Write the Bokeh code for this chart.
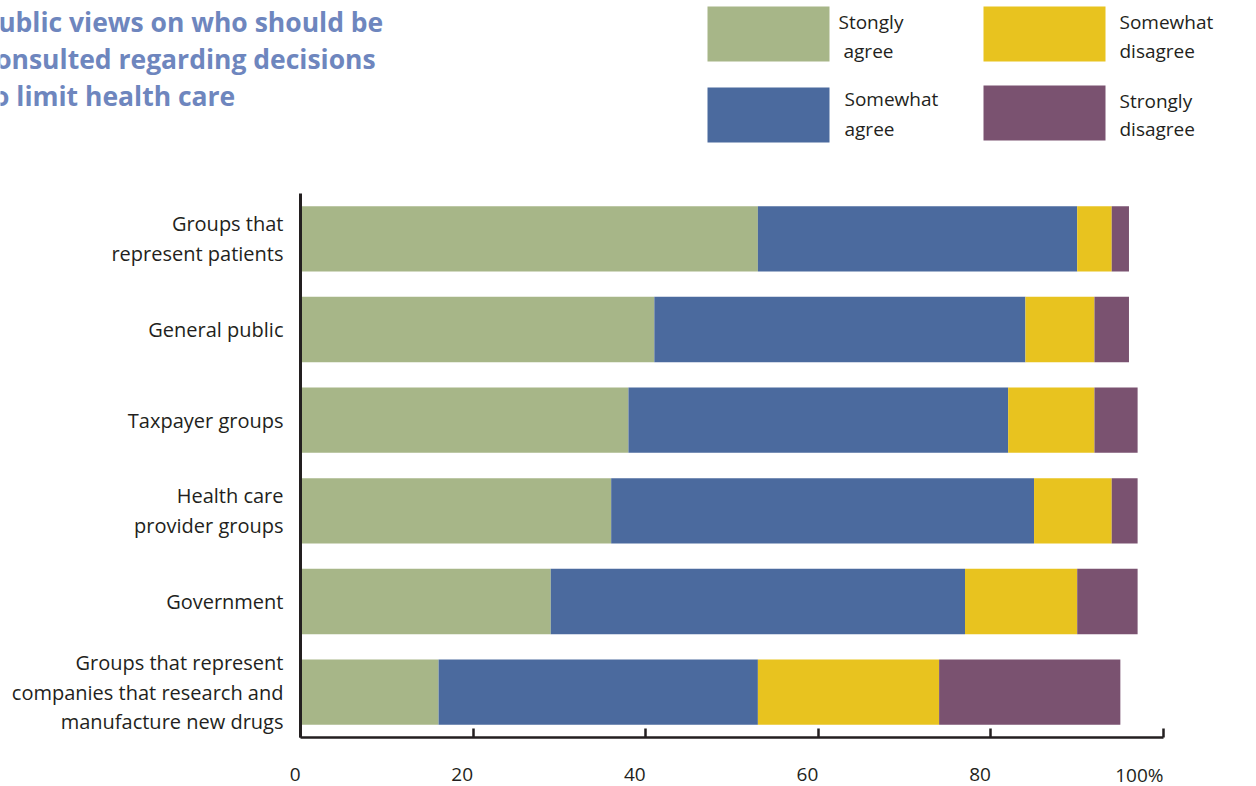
from bokeh.plotting import figure
from bokeh.models import Range1d, FixedTicker, Label, BoxAnnotation, ColumnDataSource, LinearAxis
from bokeh.embed import file_html
from bokeh.resources import INLINE

# ---- data ----
categories = [
    "Groups that\nrepresent patients",
    "General public",
    "Taxpayer groups",
    "Health care\nprovider groups",
    "Government",
    "Groups that represent\ncompanies that research and\nmanufacture new drugs",
]
strongly_agree = [53, 41, 38, 36, 29, 16]
somewhat_agree = [37, 43, 44, 49, 48, 37]
somewhat_disagree = [4, 8, 10, 9, 13, 21]
strongly_disagree = [2, 4, 5, 3, 7, 21]

series_keys = ["sa", "swa", "swd", "sd"]
series_names = ["Stongly\n agree", "Somewhat\nagree", "Somewhat\ndisagree", "Strongly\ndisagree"]
series_colors = ["#a7b688", "#4b6a9e", "#e8c31f", "#7a5270"]

x_ticks = [0, 20, 40, 60, 80, 100]
x_tick_labels = ["0", "20", "40", "60", "80", "100%"]
title_lines = ["Public views on who should be", "consulted regarding decisions", "to limit health care"]

FONT = "Open Sans"
TEXT_COLOR = "#231f20"
TITLE_COLOR = "#6e86be"

# ---- layout (pixels) ----
W, H = 1256, 786
AX_L, AX_R, AX_T, AX_B = 300, 1163, 193, 737   # where 0..100 and the bar band lie
n = len(categories)
KX = (AX_R - AX_L) / 100.0
KY = (AX_B - AX_T) / n


def dx(px):
    return (px - AX_L) / KX


def dy(py):
    return (AX_B - py) / KY


ypos = [n - i - 0.5 for i in range(n)]
source = ColumnDataSource(dict(y=ypos, sa=strongly_agree, swa=somewhat_agree,
                               swd=somewhat_disagree, sd=strongly_disagree))

p = figure(width=W, height=H, output_backend="svg", toolbar_location=None,
           x_range=Range1d(dx(0), dx(W)), y_range=Range1d(dy(H), dy(0)),
           x_axis_location=None, y_axis_location=None, min_border=0)
p.outline_line_color = None
p.grid.visible = False
p.background_fill_color = "white"
p.border_fill_color = "white"

p.hbar_stack(series_keys, y="y", height=0.72, color=series_colors, line_color=None, source=source)

# x axis (line + ticks); its labels are placed right-aligned at the ticks below
xa = LinearAxis(fixed_location=0, bounds=(0, 100))
xa.ticker = FixedTicker(ticks=x_ticks)
xa.major_label_overrides = {t: "" for t in x_ticks}
xa.major_tick_in = 9
xa.major_tick_out = 0
xa.minor_tick_line_color = None
xa.axis_line_width = 2.5
xa.axis_line_color = TEXT_COLOR
xa.major_tick_line_width = 2.5
xa.major_tick_line_color = TEXT_COLOR
p.add_layout(xa, "below")

for t, lab in zip(x_ticks, x_tick_labels):
    p.add_layout(Label(x=t, y=dy(774), text=lab, text_align="right", text_baseline="middle",
                       text_font=FONT, text_font_size="19px", text_color=TEXT_COLOR))

# y axis with category labels
ya = LinearAxis(fixed_location=0, bounds=(0, n))
ya.ticker = FixedTicker(ticks=ypos)
ya.major_label_overrides = {y: c for y, c in zip(ypos, categories)}
ya.major_label_text_font = FONT
ya.major_label_text_font_size = "20px"
ya.major_label_text_color = TEXT_COLOR
ya.major_label_text_line_height = 1.1
ya.major_label_standoff = 17
ya.major_tick_line_color = None
ya.major_tick_out = 0
ya.major_tick_in = 0
ya.minor_tick_line_color = None
ya.axis_line_width = 3
ya.axis_line_color = TEXT_COLOR
p.add_layout(ya, "left")

# title
for j, ln in enumerate(title_lines):
    p.add_layout(Label(x=dx(-19), y=dy(21 + 37 * j), text=ln, text_align="left", text_baseline="middle",
                       text_font=FONT, text_font_size="26.5px", text_font_style="bold",
                       text_color=TITLE_COLOR))

# legend
sw_left = [707, 707, 983, 983]
sw_top = [6, 87, 6, 85]
txt_left = [838, 844, 1119, 1119]
txt_y = [(21, 50), (98, 128), (21, 50), (100, 128)]
for name, col, l, t, tl, ty in zip(series_names, series_colors, sw_left, sw_top, txt_left, txt_y):
    p.add_layout(BoxAnnotation(left=dx(l), right=dx(l + 122), top=dy(t), bottom=dy(t + 55),
                               fill_color=col, fill_alpha=1.0, line_color=None))
    for ln, yy in zip(name.split("\n"), ty):
        p.add_layout(Label(x=dx(tl), y=dy(yy), text=ln.strip(), x_offset=(5 if ln.startswith(" ") else 0),
                           text_align="left", text_baseline="middle",
                           text_font=FONT, text_font_size="19px", text_color=TEXT_COLOR))

open("out.html", "w").write(file_html(p, INLINE))
